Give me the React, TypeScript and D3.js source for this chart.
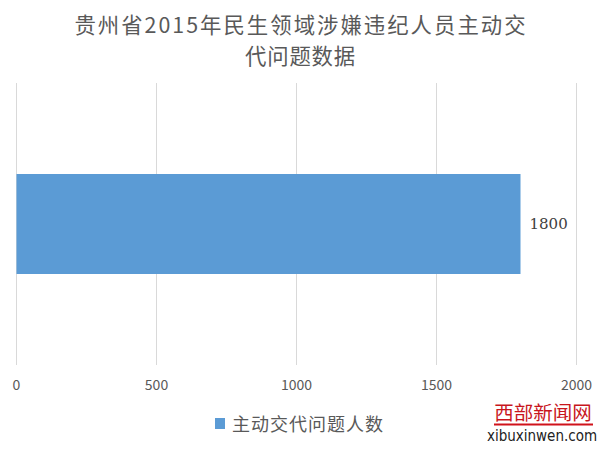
import React, { useEffect, useRef } from 'react'
import * as d3 from 'd3'

const titleLines = ['贵州省2015年民生领域涉嫌违纪人员主动交', '代问题数据']
const categories = ['主动交代问题人数']
const values = [1800]
const xTicks = [0, 500, 1000, 1500, 2000]
const seriesName = '主动交代问题人数'

const W = 600
const H = 450
const margin = { top: 83, right: 23.5, bottom: 85, left: 16.5 }
const font = '"Noto Sans CJK SC", "Noto Sans", sans-serif'

const Chart = () => {
  const ref = useRef<SVGSVGElement>(null)

  useEffect(() => {
    const svg = d3.select(ref.current)
    svg.selectAll('*').remove()

    const boundedWidth = W - margin.left - margin.right
    const boundedHeight = H - margin.top - margin.bottom

    // title, two lines
    svg
      .append('g')
      .selectAll('text')
      .data(titleLines)
      .enter()
      .append('text')
      .attr('x', (d, i) => W / 2 + (i === 0 ? 1 : 0.5))
      .attr('y', (d, i) => 32.5 + i * 31)
      .attr('text-anchor', 'middle')
      .attr('fill', '#595959')
      .style('font-family', font)
      .style('font-size', '21.4px')
      .style('letter-spacing', (d, i) => (i === 0 ? '2px' : '0.8px'))
      .text(d => d)

    const bounds = svg.append('g').attr('transform', `translate(${margin.left},${margin.top})`)

    const xScale = d3.scaleLinear().domain([0, 2000]).range([0, boundedWidth])
    const yScale = d3.scaleBand().domain(categories).range([0, boundedHeight]).paddingInner(0.5).paddingOuter(0.455)

    // gridlines
    bounds
      .selectAll('.grid')
      .data(xTicks)
      .enter()
      .append('line')
      .attr('x1', d => xScale(d))
      .attr('x2', d => xScale(d))
      .attr('y1', 0)
      .attr('y2', boundedHeight)
      .attr('stroke', '#d9d9d9')
      .attr('stroke-width', 1)

    // bars
    bounds
      .selectAll('rect')
      .data(values)
      .enter()
      .append('rect')
      .attr('x', 0)
      .attr('y', (d, i) => yScale(categories[i]) as number)
      .attr('width', d => xScale(d))
      .attr('height', yScale.bandwidth())
      .attr('fill', '#5b9bd5')

    // data labels
    bounds
      .selectAll('.label')
      .data(values)
      .enter()
      .append('text')
      .attr('x', d => xScale(d) + 9)
      .attr('y', (d, i) => (yScale(categories[i]) as number) + yScale.bandwidth() / 2)
      .attr('dy', '0.35em')
      .attr('fill', '#404040')
      .style('font-family', '"DejaVu Serif", "Liberation Serif", serif')
      .style('font-size', '15px')
      .text(d => d)

    // tick labels
    bounds
      .selectAll('.tick')
      .data(xTicks)
      .enter()
      .append('text')
      .attr('x', d => xScale(d))
      .attr('y', boundedHeight + 25)
      .attr('text-anchor', 'middle')
      .attr('fill', '#595959')
      .style('font-family', font)
      .style('font-size', '14px')
      .text(d => d)

    // legend
    const legend = svg.append('g')
    legend.append('rect').attr('x', 215).attr('y', 418).attr('width', 10).attr('height', 11).attr('fill', '#5b9bd5')
    legend
      .append('text')
      .attr('x', 232)
      .attr('y', 431)
      .attr('fill', '#595959')
      .style('font-family', font)
      .style('font-size', '18px')
      .style('letter-spacing', '1px')
      .text(seriesName)

    // watermark
    const wm = svg.append('g')
    wm.append('text')
      .attr('x', 543)
      .attr('y', 420)
      .attr('text-anchor', 'middle')
      .attr('fill', '#c8161d')
      .style('font-family', font)
      .style('font-size', '19.5px')
      .text('西部新闻网')
    wm.append('line').attr('x1', 494).attr('x2', 593).attr('y1', 424.5).attr('y2', 424.5).attr('stroke', '#d0121b').attr('stroke-width', 2)
    wm.append('text')
      .attr('x', 542)
      .attr('y', 441)
      .attr('text-anchor', 'middle')
      .attr('fill', '#222')
      .style('font-family', '"DejaVu Sans Condensed", "Liberation Sans Narrow", sans-serif')
      .style('font-size', '15px')
      .text('xibuxinwen.com')
  }, [])

  return <svg ref={ref} width={W} height={H} style={{ position: 'absolute', left: 0, top: 0, background: '#fff' }} />
}

const App = () => <Chart />

export default App
